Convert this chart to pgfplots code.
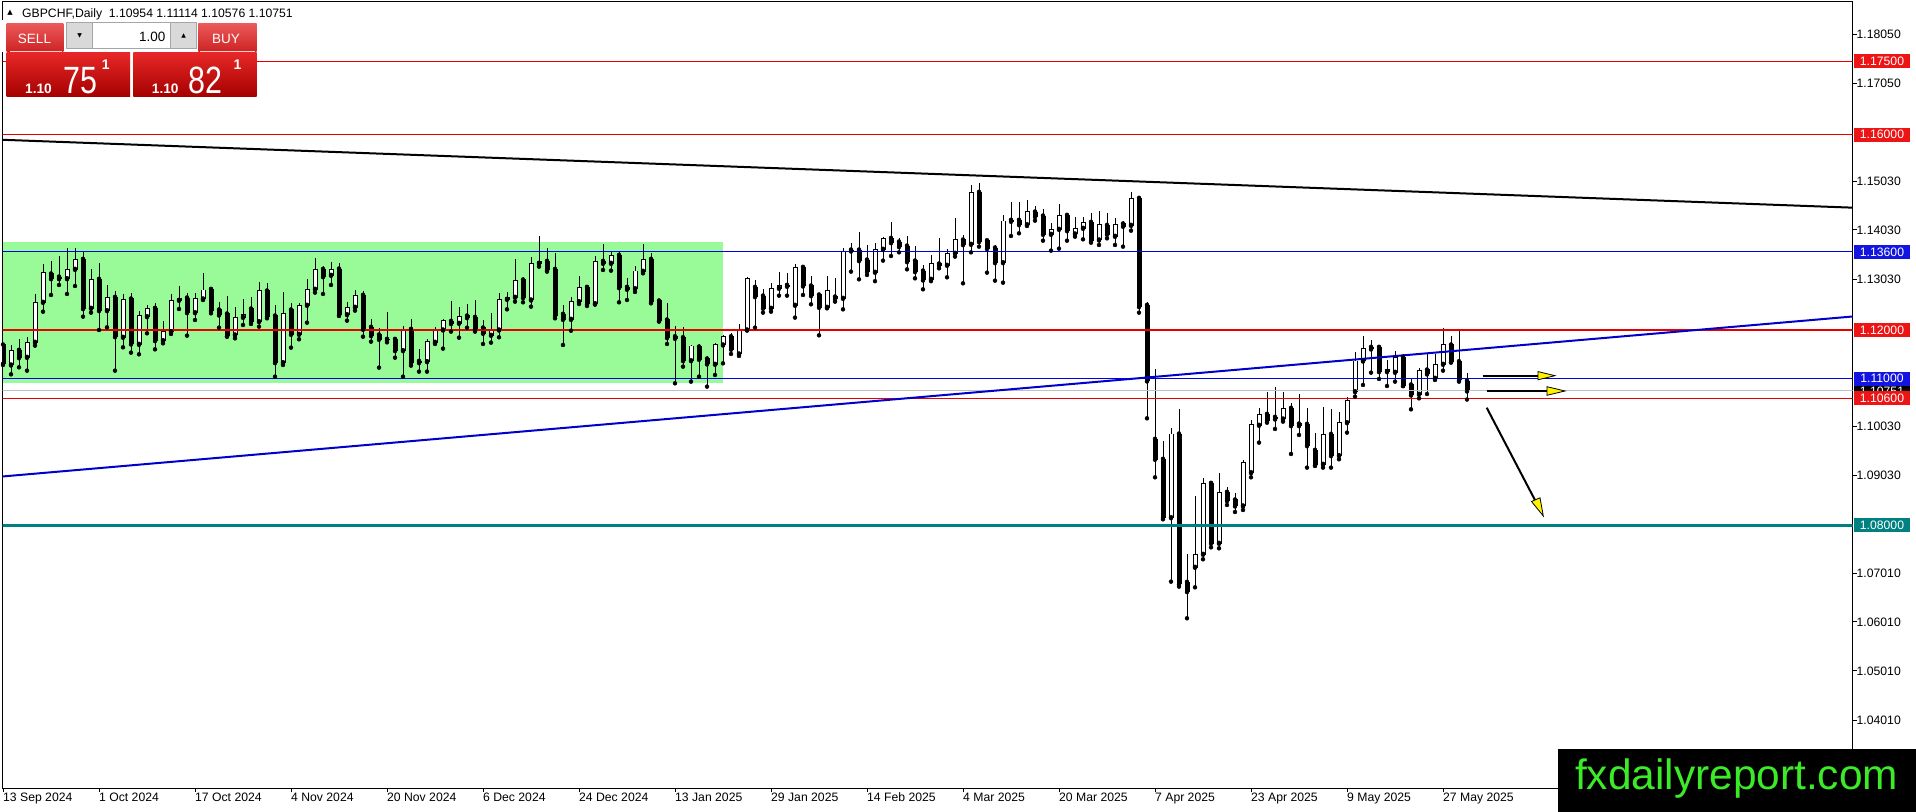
\documentclass[border=0pt]{standalone}
\usepackage{fontspec}
\setmainfont{Liberation Sans}
\newfontfamily\dejavu{DejaVu Sans}
\usepackage{pgfplots}
\pgfplotsset{compat=1.18}
\usepackage{pgfplotstable}
\definecolor{mtred}{RGB}{230,0,0}
\definecolor{boxred}{RGB}{236,20,20}
\definecolor{mtblue}{RGB}{0,0,230}
\definecolor{boxblue}{RGB}{20,20,225}
\definecolor{trendblue}{RGB}{0,0,205}
\definecolor{mtteal}{RGB}{0,128,128}
\definecolor{mtsilver}{RGB}{192,192,192}
\definecolor{palegreen}{RGB}{152,251,152}
\definecolor{btnTop}{RGB}{236,90,90}
\definecolor{btnBot}{RGB}{205,35,35}
\definecolor{prTop}{RGB}{232,40,40}
\definecolor{prBot}{RGB}{165,0,0}
\definecolor{logogreen}{RGB}{60,235,40}
\newcommand\tickfont{\fontsize{12.2bp}{14bp}\selectfont}

\pgfplotstableread{
i o h l c
0 1.11693 1.11727 1.11283 1.11317
1 1.11283 1.11693 1.11092 1.11577
2 1.11584 1.11809 1.11235 1.11433
3 1.11440 1.11863 1.11167 1.11741
4 1.11747 1.12737 1.11679 1.12567
5 1.12567 1.13345 1.12375 1.13181
6 1.13147 1.13413 1.12717 1.13051
7 1.13085 1.13515 1.12922 1.13051
8 1.13051 1.13672 1.12737 1.13236
9 1.13242 1.13672 1.12901 1.13447
10 1.13447 1.13604 1.12273 1.12437
11 1.12444 1.13242 1.12355 1.13038
12 1.13038 1.13365 1.12000 1.12396
13 1.12396 1.12915 1.12055 1.12669
14 1.12669 1.12799 1.11167 1.11863
15 1.11850 1.12730 1.11645 1.12628
16 1.12635 1.12751 1.11536 1.11713
17 1.11706 1.12389 1.11502 1.12287
18 1.12273 1.12505 1.11932 1.12444
19 1.12444 1.12546 1.11604 1.11782
20 1.11782 1.12191 1.11727 1.11966
21 1.11966 1.12730 1.11918 1.12608
22 1.12608 1.12901 1.12430 1.12655
23 1.12655 1.12765 1.11884 1.12355
24 1.12355 1.12765 1.12205 1.12635
25 1.12635 1.13174 1.12614 1.12819
26 1.12833 1.12874 1.12341 1.12396
27 1.12410 1.12580 1.12048 1.12307
28 1.12328 1.12696 1.11863 1.11877
29 1.11898 1.12478 1.11829 1.12259
30 1.12259 1.12628 1.12102 1.12321
31 1.12430 1.12683 1.12123 1.12171
32 1.12171 1.12990 1.12068 1.12799
33 1.12799 1.12969 1.12239 1.12273
34 1.12287 1.12512 1.11044 1.11331
35 1.11331 1.12771 1.11283 1.12341
36 1.12410 1.12546 1.11638 1.11911
37 1.11911 1.12546 1.11809 1.12505
38 1.12505 1.13038 1.12150 1.12833
39 1.12833 1.13468 1.12765 1.13242
40 1.13242 1.13311 1.12737 1.13092
41 1.13120 1.13393 1.12922 1.13242
42 1.13249 1.13365 1.12287 1.12307
43 1.12314 1.12580 1.12191 1.12464
44 1.12464 1.12819 1.12396 1.12710
45 1.12710 1.12805 1.11863 1.12014
46 1.12055 1.12225 1.11761 1.11884
47 1.11898 1.12034 1.11229 1.11809
48 1.11809 1.12362 1.11747 1.11795
49 1.11809 1.11863 1.11433 1.11577
50 1.11577 1.12089 1.11044 1.12014
51 1.12014 1.12225 1.11270 1.11331
52 1.11358 1.11604 1.11147 1.11331
53 1.11352 1.11809 1.11147 1.11768
54 1.11747 1.12055 1.11713 1.12000
55 1.12000 1.12232 1.11618 1.12198
56 1.12177 1.12594 1.11966 1.12130
57 1.12137 1.12464 1.11843 1.12280
58 1.12287 1.12532 1.12048 1.12253
59 1.12259 1.12614 1.11966 1.12027
60 1.12041 1.12205 1.11713 1.11932
61 1.11891 1.12341 1.11741 1.11993
62 1.12000 1.12765 1.11850 1.12628
63 1.12628 1.12785 1.12423 1.12669
64 1.12669 1.13447 1.12580 1.13017
65 1.13024 1.13079 1.12567 1.12662
66 1.12614 1.13488 1.12478 1.13365
67 1.13365 1.13925 1.13297 1.13406
68 1.13406 1.13672 1.13195 1.13229
69 1.13242 1.13570 1.12239 1.12294
70 1.12321 1.12505 1.11693 1.12218
71 1.12218 1.12669 1.11986 1.12580
72 1.12580 1.13106 1.12532 1.12874
73 1.12874 1.12901 1.12491 1.12532
74 1.12539 1.13515 1.12519 1.13406
75 1.13406 1.13761 1.13229 1.13365
76 1.13365 1.13625 1.13215 1.13529
77 1.13529 1.13625 1.12567 1.12867
78 1.12874 1.13058 1.12614 1.12833
79 1.12846 1.13311 1.12778 1.13208
80 1.13201 1.13761 1.13160 1.13447
81 1.13447 1.13584 1.12546 1.12580
82 1.12594 1.12635 1.12171 1.12191
83 1.12205 1.12560 1.11713 1.11843
84 1.11863 1.12082 1.10908 1.11829
85 1.11843 1.12068 1.11249 1.11372
86 1.11372 1.11693 1.10942 1.11672
87 1.11652 1.11706 1.11044 1.11399
88 1.11406 1.11468 1.10840 1.11304
89 1.11297 1.11727 1.11078 1.11693
90 1.11693 1.11898 1.11317 1.11863
91 1.11863 1.11945 1.11509 1.11604
92 1.11509 1.12123 1.11468 1.12000
93 1.12000 1.13092 1.11993 1.13058
94 1.12874 1.13024 1.12048 1.12683
95 1.12696 1.12833 1.12355 1.12444
96 1.12444 1.12956 1.12375 1.12853
97 1.12853 1.13181 1.12703 1.12901
98 1.12915 1.13160 1.12703 1.12894
99 1.12505 1.13345 1.12253 1.13283
100 1.13283 1.13317 1.12717 1.12901
101 1.12901 1.13106 1.12526 1.12703
102 1.12717 1.12737 1.11891 1.12464
103 1.12464 1.13106 1.12444 1.12812
104 1.12676 1.13072 1.12580 1.12642
105 1.12648 1.13672 1.12423 1.13611
106 1.13638 1.13775 1.13195 1.13618
107 1.13638 1.14014 1.13038 1.13420
108 1.13433 1.13741 1.13126 1.13195
109 1.13181 1.13788 1.13000 1.13652
110 1.13652 1.13898 1.13420 1.13877
111 1.13877 1.14218 1.13515 1.13788
112 1.13802 1.13877 1.13590 1.13707
113 1.13720 1.13925 1.13242 1.13399
114 1.13413 1.13720 1.13058 1.13195
115 1.13208 1.13331 1.12833 1.13024
116 1.13038 1.13536 1.13000 1.13352
117 1.13352 1.13877 1.13263 1.13324
118 1.13324 1.13652 1.13079 1.13570
119 1.13570 1.14287 1.13502 1.13843
120 1.13843 1.13945 1.12956 1.13747
121 1.13754 1.14969 1.13590 1.14819
122 1.14819 1.15017 1.13707 1.13809
123 1.13829 1.13857 1.13174 1.13666
124 1.13679 1.13741 1.13010 1.13379
125 1.13379 1.14355 1.12969 1.14232
126 1.14246 1.14614 1.13925 1.14225
127 1.14246 1.14614 1.13980 1.14157
128 1.14157 1.14662 1.14130 1.14430
129 1.14416 1.14546 1.14239 1.14321
130 1.14334 1.14471 1.13829 1.13959
131 1.13959 1.14184 1.13625 1.14061
132 1.14061 1.14580 1.13666 1.14348
133 1.14348 1.14403 1.13829 1.14034
134 1.13966 1.14307 1.13911 1.14082
135 1.14082 1.14307 1.13857 1.14205
136 1.14205 1.14389 1.13788 1.13829
137 1.13843 1.14444 1.13741 1.14164
138 1.14143 1.14389 1.13877 1.13959
139 1.13918 1.14287 1.13741 1.14164
140 1.14171 1.14232 1.13707 1.14123
141 1.14143 1.14819 1.14034 1.14696
142 1.14696 1.14744 1.12355 1.12478
143 1.12505 1.12580 1.10191 1.10956
144 1.09761 1.11195 1.08983 1.09352
145 1.09352 1.09727 1.08123 1.08157
146 1.08157 1.10000 1.06846 1.09870
147 1.09870 1.10382 1.06744 1.06799
148 1.06833 1.07413 1.06096 1.06642
149 1.07140 1.08601 1.06730 1.07406
150 1.07406 1.08962 1.07304 1.08860
151 1.08860 1.08874 1.07549 1.07631
152 1.07631 1.09078 1.07529 1.08676
153 1.08676 1.08792 1.08416 1.08505
154 1.08519 1.08662 1.08273 1.08396
155 1.08396 1.09330 1.08314 1.09290
156 1.09078 1.10157 1.08983 1.10055
157 1.10048 1.10410 1.09693 1.10273
158 1.10273 1.10724 1.10102 1.10143
159 1.10212 1.10826 1.09973 1.10177
160 1.10177 1.10724 1.10123 1.10396
161 1.10396 1.10498 1.09461 1.10041
162 1.10075 1.10683 1.09850 1.10041
163 1.10068 1.10396 1.09181 1.09631
164 1.09536 1.09884 1.09215 1.09235
165 1.09249 1.10430 1.09181 1.09863
166 1.09863 1.10375 1.09181 1.09427
167 1.09427 1.10314 1.09352 1.10102
168 1.10102 1.10635 1.09898 1.10553
169 1.10737 1.11556 1.10635 1.11365
170 1.11365 1.11877 1.10874 1.11625
171 1.11645 1.11795 1.11126 1.11611
172 1.11645 1.11659 1.10997 1.11147
173 1.11147 1.11386 1.10853 1.11195
174 1.11133 1.11577 1.10942 1.11440
175 1.11440 1.11509 1.10853 1.10860
176 1.10874 1.11010 1.10375 1.10669
177 1.10683 1.11215 1.10600 1.11167
178 1.11181 1.11536 1.10689 1.11099
179 1.11010 1.11509 1.10976 1.11297
180 1.11297 1.12034 1.11167 1.11693
181 1.11693 1.11877 1.11331 1.11352
182 1.11352 1.11986 1.10942 1.10976
183 1.10954 1.11114 1.10576 1.10751
}\candles

\begin{document}
\begin{tikzpicture}
\fill[white] (0,0) rectangle (1916bp,812bp);
\path[use as bounding box] (0,0) rectangle (1916bp,812bp);
\begin{axis}[
  at={(2.5bp,23.7bp)}, anchor=south west,
  scale only axis, width=1850bp, height=786.3bp,
  xmin=-0.0625, xmax=231.1875, ymin=1.02614, ymax=1.18717,
  axis line style={black, line width=1bp},
  tick align=outside, major tick length=4bp,
  tick style={black, line width=1bp},
  xtick pos=left, ytick pos=right, yticklabel pos=right,
  xtick={0,12,...,180},
  xticklabels={13 Sep 2024,1 Oct 2024,17 Oct 2024,4 Nov 2024,20 Nov 2024,6 Dec 2024,24 Dec 2024,13 Jan 2025,29 Jan 2025,14 Feb 2025,4 Mar 2025,20 Mar 2025,7 Apr 2025,23 Apr 2025,9 May 2025,27 May 2025},
  ytick={1.1806,1.1705,1.1504,1.1405,1.1304,1.1003,1.0903,1.0702,1.0602,1.0502,1.0401},
  yticklabels={1.18050,1.17050,1.15030,1.14030,1.13030,1.10030,1.09030,1.07010,1.06010,1.05010,1.04010},
  xticklabel style={font=\tickfont, anchor=north west, inner sep=0pt},
  yticklabel style={font=\tickfont, anchor=west, inner sep=0pt},
  scaled y ticks=false,
]
% green range box (background)
\fill[palegreen] (axis cs:-0.0625,1.13802) rectangle (axis cs:89.96,1.10921);
% wicks
\addplot[only marks, mark=none, error bars/.cd, y dir=plus, y explicit, error mark=none,
  error bar style={draw=black, line width=1bp}]
  table[x=i, y=l, y error plus expr=\thisrow{h}-\thisrow{l}] {\candles};
% bodies, outline / bear fill
\addplot[only marks, mark=none, error bars/.cd, y dir=plus, y explicit, error mark=none,
  error bar style={draw=black, line width=5bp}]
  table[x=i, y expr={min(\thisrow{o},\thisrow{c})-0.0001}, y error plus expr={abs(\thisrow{c}-\thisrow{o})+0.0002}] {\candles};
% bull bodies, white inside
\addplot[only marks, mark=none, error bars/.cd, y dir=plus, y explicit, error mark=none,
  error bar style={draw=white, line width=3bp}]
  table[x=i, y expr={\thisrow{o}+0.0001}, y error plus expr={max(\thisrow{c}-\thisrow{o}-0.0002,0)}] {\candles};
% horizontal levels
\addplot[mtred, line width=1bp] coordinates {(-1,1.175) (232,1.175)};
\addplot[mtred, line width=1bp] coordinates {(-1,1.160) (232,1.160)};
\addplot[mtblue, line width=1bp] coordinates {(-1,1.136) (232,1.136)};
\addplot[mtred, line width=2.5bp] coordinates {(-1,1.120) (232,1.120)};
\addplot[mtblue, line width=1bp] coordinates {(-1,1.110) (232,1.110)};
\addplot[mtsilver, line width=1bp] coordinates {(-1,1.10751) (232,1.10751)};
\addplot[mtred, line width=1bp] coordinates {(-1,1.106) (232,1.106)};
\addplot[mtteal, line width=3bp] coordinates {(-1,1.080) (232,1.080)};
% trend lines
\addplot[black, line width=2bp] coordinates {(-0.0625,1.15895) (231.1875,1.14505)};
\addplot[trendblue, line width=2bp] coordinates {(-0.0625,1.0900) (231.1875,1.12276)};
\end{axis}

\begin{scope}[x=1bp, y=-1bp, shift={(0bp,812bp)}]
% right-hand price boxes
\tikzset{pbox/.style={anchor=center, inner sep=0pt, minimum width=56bp, minimum height=14bp, text=white, font=\tickfont}}
\node[pbox, fill=boxred] at (1882,61.4) {1.17500};
\node[pbox, fill=boxred] at (1882,134.7) {1.16000};
\node[pbox, fill=boxblue] at (1882,251.9) {1.13600};
\node[pbox, fill=boxred] at (1882,330) {1.12000};
\node[pbox, fill=black] at (1882,391) {1.10751};
\node[pbox, fill=boxblue] at (1882,378.8) {1.11000};
\node[pbox, fill=boxred] at (1882,398.4) {1.10600};
\node[pbox, fill=mtteal] at (1882,525.3) {1.08000};
% arrows
\draw[black, line width=2bp] (1482.7,375.7) -- (1540,375.7);
\filldraw[fill=yellow, draw=black, line width=0.8bp] (1538,371.6) -- (1555,375.7) -- (1538,379.8) -- cycle;
\draw[black, line width=2bp] (1486.7,391) -- (1549,391);
\filldraw[fill=yellow, draw=black, line width=0.8bp] (1547,386.7) -- (1565,391) -- (1547,395.3) -- cycle;
\draw[black, line width=2bp] (1486.7,407.7) -- (1536,502);
\filldraw[fill=yellow, draw=black, line width=0.8bp] (1531.5,501.5) -- (1543.3,516) -- (1540,497.8) -- cycle;
% header
\node[anchor=center, inner sep=0pt, font=\dejavu\fontsize{7bp}{8bp}\selectfont] at (10,13) {▲};
\node[anchor=base west, inner sep=0pt, font=\tickfont] at (22,17.3) {GBPCHF,Daily\ \ 1.10954 1.11114 1.10576 1.10751};
% one-click trading panel
\fill[white] (0,20) rectangle (258,52.3);
\fill[white] (130,52.3) rectangle (133.3,96.7);
\shade[top color=btnTop, bottom color=btnBot] (6.7,23.3) rectangle (63.3,51.7);
\shade[top color=btnTop, bottom color=btnBot] (198.3,23.3) rectangle (256.7,51.7);
\draw[white!80!red, line width=0.7bp] (10,51.2) -- (62,51.2);
\draw[white!80!red, line width=0.7bp] (200,51.2) -- (255,51.2);
\filldraw[fill=black!15, draw=black!35, line width=0.7bp] (66.7,22.7) rectangle (92.7,48.3);
\filldraw[fill=white, draw=black!35, line width=0.7bp] (92.7,22.7) rectangle (170.7,48.3);
\filldraw[fill=black!15, draw=black!35, line width=0.7bp] (170.7,22.7) rectangle (196.7,48.3);
\node[anchor=center, inner sep=0pt, font=\dejavu\fontsize{6bp}{7bp}\selectfont] at (79.7,36) {▼};
\node[anchor=center, inner sep=0pt, font=\dejavu\fontsize{6bp}{7bp}\selectfont] at (183.7,35.5) {▲};
\node[anchor=base east, inner sep=0pt, font=\fontsize{13.5bp}{15bp}\selectfont] at (165.7,41.7) {1.00};
\node[anchor=base, inner sep=0pt, text=white, font=\fontsize{13.5bp}{15bp}\selectfont] at (34.5,43.3) {SELL};
\node[anchor=base, inner sep=0pt, text=white, font=\fontsize{13.5bp}{15bp}\selectfont] at (226,43.3) {BUY};
\shade[top color=prTop, bottom color=prBot] (6.7,52.3) rectangle (130,96.7);
\shade[top color=prTop, bottom color=prBot] (133.3,52.3) rectangle (256.7,96.7);
\node[anchor=base west, inner sep=0pt, text=white, font=\bfseries\fontsize{13.7bp}{15bp}\selectfont] at (25,93.7) {1.10};
\node[anchor=base west, inner sep=0pt, text=white] at (63.3,93.7) {\scalebox{0.8}[1]{\fontsize{38bp}{40bp}\selectfont 75}};
\node[anchor=base west, inner sep=0pt, text=white, font=\bfseries\fontsize{14bp}{15bp}\selectfont] at (101.7,70) {1};
\node[anchor=base west, inner sep=0pt, text=white, font=\bfseries\fontsize{13.7bp}{15bp}\selectfont] at (151.7,93.7) {1.10};
\node[anchor=base west, inner sep=0pt, text=white] at (188.3,93.7) {\scalebox{0.8}[1]{\fontsize{38bp}{40bp}\selectfont 82}};
\node[anchor=base west, inner sep=0pt, text=white, font=\bfseries\fontsize{14bp}{15bp}\selectfont] at (233.3,70) {1};
% logo
\fill[black] (1558,749) rectangle (1916,812);
\node[anchor=base west, inner sep=0pt, text=logogreen, font=\fontsize{42.4bp}{44bp}\selectfont] at (1575,789.3) {fxdailyreport.com};
\end{scope}
\end{tikzpicture}
\end{document}
